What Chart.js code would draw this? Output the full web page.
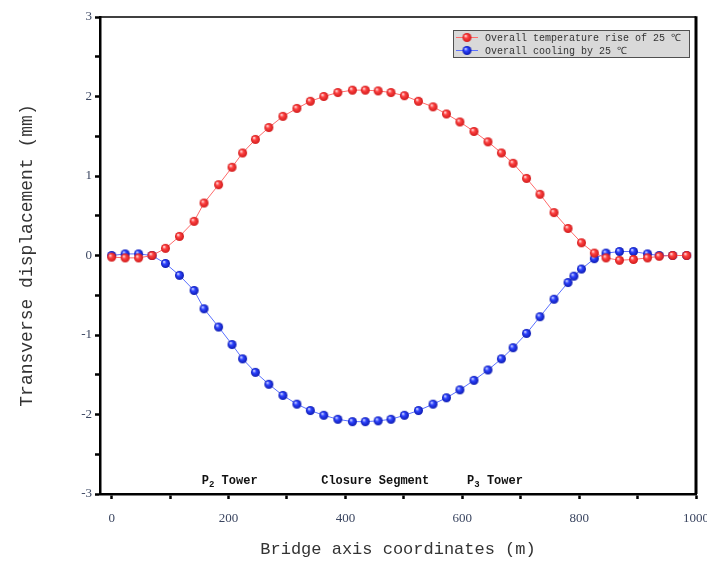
<!DOCTYPE html>
<html>
<head>
<meta charset="utf-8">
<script src="https://cdn.jsdelivr.net/npm/chart.js@4.4.0/dist/chart.umd.min.js"></script>
<style>
  html, body { margin: 0; padding: 0; background: #fff; }
</style>
</head>
<body>
<canvas id="myChart" width="707" height="561"></canvas>
<script>
// bridge axis coordinates (m) and transverse displacement (mm)
var xRise = [0, 23, 46, 69, 92, 116, 141, 158, 183, 206, 224, 246, 269, 293, 317, 340, 363, 387, 412, 434, 456,
             478, 501, 525, 550, 573, 596, 620, 644, 667, 687, 710, 733, 757, 781, 804, 826, 846, 869, 893, 917, 937, 960, 984];
var yRise = [-0.02, -0.03, -0.03, 0, 0.09, 0.24, 0.43, 0.66, 0.89, 1.11, 1.29, 1.46, 1.61, 1.75, 1.85, 1.94, 2.00, 2.05, 2.08, 2.08, 2.07,
             2.05, 2.01, 1.94, 1.87, 1.78, 1.68, 1.56, 1.43, 1.29, 1.16, 0.97, 0.77, 0.54, 0.34, 0.16, 0.03, -0.03, -0.06, -0.05, -0.03, -0.01, 0, 0];
var xCool = [0, 23, 46, 69, 92, 116, 141, 158, 183, 206, 224, 246, 269, 293, 317, 340, 363, 387, 412, 434, 456,
             478, 501, 525, 550, 573, 596, 620, 644, 667, 687, 710, 733, 757, 781, 791, 804, 826, 846, 869, 893, 917, 937, 960, 984];
var yCool = [0, 0.02, 0.02, 0, -0.10, -0.25, -0.44, -0.67, -0.90, -1.12, -1.30, -1.47, -1.62, -1.76, -1.87, -1.95, -2.01, -2.06, -2.09, -2.09, -2.08,
             -2.06, -2.01, -1.95, -1.87, -1.79, -1.69, -1.57, -1.44, -1.30, -1.16, -0.98, -0.77, -0.55, -0.34, -0.26, -0.17, -0.04, 0.03, 0.05, 0.05, 0.02, 0, 0, 0];
var seriesNames = ['Overall temperature rise of 25 \u2103', 'Overall cooling by 25 \u2103'];

// location notes along the bridge ("_" marks a subscript)
var noteText = ['P_2 Tower', 'Closure Segment', 'P_3 Tower'];
var noteX = [202, 451, 656];
var noteY = -2.83;

var monoFont = "'Liberation Mono', 'DejaVu Sans Mono', monospace";
var serifFont = "'Liberation Serif', 'DejaVu Serif', serif";

function toPoints(xs, ys) {
    var pts = [];
    for (var i = 0; i < xs.length; i++) pts.push({x: xs[i], y: ys[i]});
    return pts;
}

// small shaded ball used as marker
function ball(light, base, dark) {
    var r = 4.5;
    var c = document.createElement('canvas');
    c.width = 11; c.height = 11;
    var g = c.getContext('2d');
    var grd = g.createRadialGradient(4, 3.8, 0.4, 5.5, 5.5, r);
    grd.addColorStop(0, light);
    grd.addColorStop(0.35, base);
    grd.addColorStop(1, dark);
    g.fillStyle = grd;
    g.beginPath();
    g.arc(5.5, 5.5, r, 0, Math.PI * 2);
    g.fill();
    return c;
}
var redBall = ball('#ffd8d8', '#ff4444', '#d01818');
var blueBall = ball('#c8d0ff', '#2f45ff', '#0a18b0');

var framePlugin = {
    id: 'frame',
    afterDraw: function (chart) {
        var ctx = chart.ctx, a = chart.chartArea;
        ctx.save();
        ctx.strokeStyle = '#000';
        ctx.lineWidth = 1.5;
        ctx.beginPath();
        ctx.moveTo(a.left, a.top);
        ctx.lineTo(a.right, a.top);
        ctx.stroke();
        ctx.lineWidth = 3;
        ctx.beginPath();
        ctx.moveTo(a.right, a.top - 0.7);
        ctx.lineTo(a.right, a.bottom);
        ctx.stroke();

        // notes
        var xs = chart.scales.x, ys = chart.scales.y;
        ctx.fillStyle = '#111';
        ctx.textBaseline = 'alphabetic';
        for (var i = 0; i < noteText.length; i++) {
            var parts = noteText[i].split('_');
            var big = 'bold 12px ' + monoFont, small = 'bold 9px ' + monoFont;
            var w = 0;
            ctx.font = big; w += ctx.measureText(parts[0]).width;
            var sub = '', rest = '';
            if (parts.length > 1) {
                sub = parts[1].charAt(0); rest = parts[1].slice(1);
                ctx.font = small; w += ctx.measureText(sub).width;
                ctx.font = big; w += ctx.measureText(rest).width;
            }
            var px = xs.getPixelForValue(noteX[i]) - w / 2;
            var py = ys.getPixelForValue(noteY) + 4;
            ctx.textAlign = 'left';
            ctx.font = big; ctx.fillText(parts[0], px, py);
            px += ctx.measureText(parts[0]).width;
            if (sub) {
                ctx.font = small; ctx.fillText(sub, px, py + 3);
                px += ctx.measureText(sub).width;
                ctx.font = big; ctx.fillText(rest, px, py);
            }
        }

        // legend box
        var bx = 453, by = 30, bw = 236, bh = 27;
        ctx.fillStyle = '#d9d9d9';
        ctx.fillRect(bx, by, bw, bh);
        ctx.strokeStyle = '#505050';
        ctx.lineWidth = 1;
        ctx.strokeRect(bx + 0.5, by + 0.5, bw, bh);
        chart.data.datasets.forEach(function (ds, k) {
            var cy = by + 7.5 + k * 13;
            ctx.strokeStyle = ds.borderColor;
            ctx.lineWidth = 1;
            ctx.beginPath();
            ctx.moveTo(bx + 3, cy);
            ctx.lineTo(bx + 25, cy);
            ctx.stroke();
            ctx.drawImage(ds.pointStyle, bx + 14 - 5.5, cy - 5.5);
            ctx.fillStyle = '#333';
            ctx.font = '10px ' + monoFont;
            ctx.textBaseline = 'middle';
            ctx.fillText(ds.label, bx + 32, cy + 0.5);
        });
        ctx.restore();
    }
};

var ctx = document.getElementById('myChart').getContext('2d');
var myChart = new Chart(ctx, {
    type: 'line',
    data: {
        datasets: [{
            label: seriesNames[0],
            data: toPoints(xRise, yRise),
            borderColor: '#ff6a6a',
            backgroundColor: '#ff4444',
            borderWidth: 1,
            pointStyle: redBall,
            pointRadius: 4.5,
            tension: 0,
            fill: false
        },
        {
            label: seriesNames[1],
            data: toPoints(xCool, yCool),
            borderColor: '#5a70ff',
            backgroundColor: '#2f45ff',
            borderWidth: 1,
            pointStyle: blueBall,
            pointRadius: 4.5,
            tension: 0,
            fill: false
        }]
    },
    options: {
        responsive: false,
        animation: false,
        layout: { padding: { top: 17, right: 11, left: 0, bottom: 0 } },
        plugins: {
            legend: { display: false },
            tooltip: { enabled: false }
        },
        scales: {
            x: {
                type: 'linear',
                min: -20,
                max: 1000,
                afterFit: function (s) { s.height = 67; s.paddingRight = 0; s.paddingLeft = 0; },
                ticks: {
                    stepSize: 100,
                    includeBounds: false,
                    autoSkip: false,
                    maxRotation: 0,
                    padding: 12,
                    color: '#3a4560',
                    font: { family: serifFont, size: 13 },
                    callback: function (v) { return v % 200 === 0 ? v : ''; }
                },
                grid: { drawOnChartArea: false, drawTicks: true, tickLength: 5, tickWidth: 2.5, tickColor: '#000' },
                border: { color: '#000', width: 2.5 },
                title: {
                    display: true,
                    text: 'Bridge axis coordinates (m)',
                    color: '#333',
                    font: { family: monoFont, size: 17 },
                    padding: { top: 0, bottom: 1 }
                }
            },
            y: {
                min: -3,
                max: 3,
                afterFit: function (s) { s.width = 100; },
                ticks: {
                    stepSize: 0.5,
                    autoSkip: false,
                    padding: 3,
                    color: '#3a4560',
                    font: { family: serifFont, size: 13 },
                    callback: function (v) { return Number.isInteger(v) ? v : ''; }
                },
                grid: { drawOnChartArea: false, drawTicks: true, tickLength: 5, tickWidth: 2.5, tickColor: '#000' },
                border: { color: '#000', width: 2.5 },
                title: {
                    display: true,
                    text: 'Transverse displacement (mm)',
                    color: '#333',
                    font: { family: monoFont, size: 18 },
                    padding: { top: 16, bottom: 0 }
                }
            }
        }
    },
    plugins: [framePlugin]
});
</script>
</body>
</html>
